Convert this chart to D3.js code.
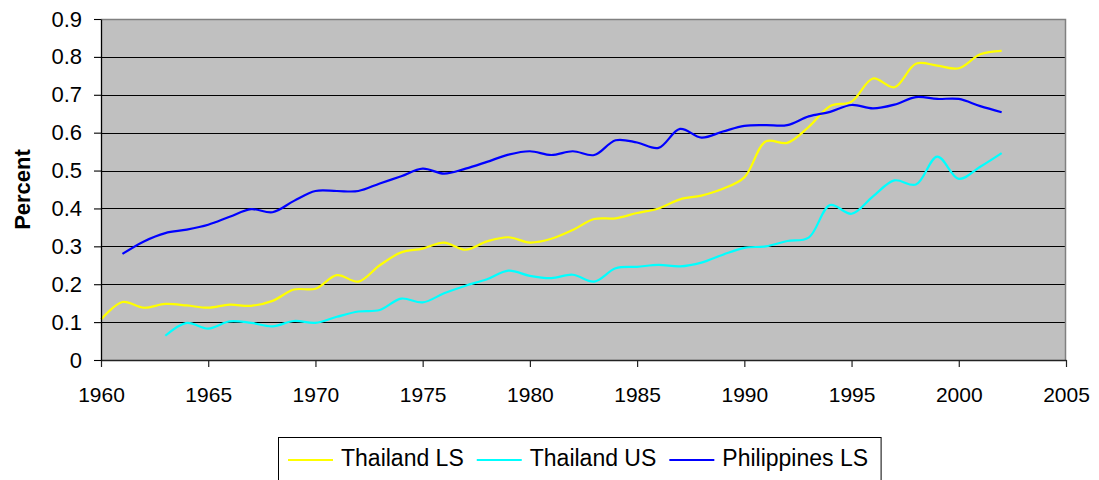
<!DOCTYPE html>
<html>
<head>
<meta charset="utf-8">
<script src="https://cdn.jsdelivr.net/npm/d3@7"></script>
<style>
  html, body { margin: 0; padding: 0; background: #ffffff; }
  svg { display: block; }
  text { font-family: "Liberation Sans", Arial, sans-serif; fill: #000; }
</style>
</head>
<body>
<svg id="chart" width="1099" height="480"></svg>
<script>
// ---------- data ----------
const years = [1960,1961,1962,1963,1964,1965,1966,1967,1968,1969,
               1970,1971,1972,1973,1974,1975,1976,1977,1978,1979,
               1980,1981,1982,1983,1984,1985,1986,1987,1988,1989,
               1990,1991,1992,1993,1994,1995,1996,1997,1998,1999,
               2000,2001,2002];

// Thailand LS: 1960-2002
const thailandLS = [0.107,0.153,0.138,0.148,0.144,0.138,0.146,0.143,0.156,0.186,
                    0.188,0.224,0.207,0.250,0.284,0.294,0.310,0.291,0.313,0.324,
                    0.310,0.320,0.343,0.372,0.374,0.388,0.400,0.424,0.434,0.452,
                    0.482,0.577,0.573,0.615,0.670,0.682,0.743,0.720,0.782,0.777,
                    0.770,0.807,0.816];

// Thailand US: 1963-2002 (null before)
const thailandUS = [null,null,null,0.064,0.098,0.083,0.102,0.098,0.089,0.103,
                    0.098,0.114,0.128,0.132,0.162,0.152,0.176,0.196,0.213,0.236,
                    0.222,0.216,0.225,0.207,0.242,0.246,0.251,0.247,0.257,0.278,
                    0.296,0.300,0.314,0.323,0.409,0.386,0.432,0.474,0.463,0.537,
                    0.478,0.510,0.546];

// Philippines LS: 1961-2002 (null before)
const philippinesLS = [null,0.280,0.313,0.335,0.344,0.357,0.378,0.398,0.390,0.420,
                       0.446,0.446,0.446,0.466,0.485,0.505,0.492,0.505,0.523,0.542,
                       0.551,0.541,0.551,0.541,0.580,0.574,0.560,0.610,0.587,0.603,
                       0.618,0.620,0.620,0.643,0.655,0.673,0.664,0.674,0.694,0.689,
                       0.689,0.670,0.654];

const seriesNames  = ["Thailand LS", "Thailand US", "Philippines LS"];
const seriesValues = [thailandLS, thailandUS, philippinesLS];
const seriesColors = ["#FFFF00", "#00FFFF", "#0000FF"];

const xTickValues = [1960,1965,1970,1975,1980,1985,1990,1995,2000,2005];
const yTickValues = [0,0.1,0.2,0.3,0.4,0.5,0.6,0.7,0.8,0.9];
const yTickLabels = ["0","0.1","0.2","0.3","0.4","0.5","0.6","0.7","0.8","0.9"];
const yAxisTitle = "Percent";

// ---------- layout ----------
const svg = d3.select("#chart");
const plot = { left: 101, right: 1066, top: 19, bottom: 360 };

const x = d3.scaleLinear().domain([1960, 2005]).range([plot.left, plot.right]);
const y = d3.scaleLinear().domain([0, 0.9]).range([plot.bottom, plot.top]);

// plot background
svg.append("rect")
  .attr("x", plot.left).attr("y", plot.top)
  .attr("width", plot.right - plot.left).attr("height", plot.bottom - plot.top)
  .attr("fill", "#C0C0C0");

// gridlines
svg.append("g")
  .selectAll("line")
  .data(yTickValues.filter(d => d > 0))
  .join("line")
  .attr("x1", plot.left).attr("x2", plot.right)
  .attr("y1", d => Math.round(y(d)) + 0.5).attr("y2", d => Math.round(y(d)) + 0.5)
  .attr("stroke", "#000").attr("stroke-width", 1)
  .attr("shape-rendering", "crispEdges");

// plot border top/right (grey)
svg.append("path")
  .attr("d", `M${plot.left},${plot.top + 0.5}H${plot.right - 0.5}V${plot.bottom}`)
  .attr("fill", "none").attr("stroke", "#808080").attr("stroke-width", 1.5);

// lines
const line = d3.line()
  .defined(d => d.v != null)
  .x(d => x(d.year))
  .y(d => y(d.v))
  .curve(d3.curveCatmullRom.alpha(0.5));

seriesValues.forEach((vals, i) => {
  const pts = years.map((yr, j) => ({ year: yr, v: vals[j] }));
  svg.append("path")
    .datum(pts)
    .attr("d", line)
    .attr("fill", "none")
    .attr("stroke", seriesColors[i])
    .attr("stroke-width", 2.2)
    .attr("stroke-linejoin", "round");
});

// axes
const xAxis = d3.axisBottom(x)
  .tickValues(xTickValues)
  .tickFormat(d => String(d))
  .tickSizeInner(7).tickSizeOuter(0).tickPadding(20);

const gx = svg.append("g")
  .attr("transform", `translate(0,${plot.bottom})`)
  .call(xAxis);
gx.select(".domain").attr("stroke", "#222").attr("stroke-width", 1.6);
gx.selectAll(".tick line").attr("stroke", "#222").attr("stroke-width", 1.2);
gx.selectAll(".tick text")
  .style("font-family", '"Liberation Sans", Arial, sans-serif')
  .style("font-size", "21px").attr("fill", "#000");

const yAxis = d3.axisLeft(y)
  .tickValues(yTickValues)
  .tickFormat((d, i) => yTickLabels[i])
  .tickSizeInner(7).tickSizeOuter(0).tickPadding(12);

const gy = svg.append("g")
  .attr("transform", `translate(${plot.left},0)`)
  .call(yAxis);
gy.select(".domain").attr("stroke", "#000").attr("stroke-width", 1.3);
gy.selectAll(".tick line").attr("stroke", "#000").attr("stroke-width", 1.1);
gy.selectAll(".tick text")
  .style("font-family", '"Liberation Sans", Arial, sans-serif')
  .style("font-size", "22px").attr("fill", "#000");

// y axis title
svg.append("text")
  .attr("transform", `translate(30,${(plot.top + plot.bottom) / 2}) rotate(-90)`)
  .attr("text-anchor", "middle")
  .style("font-size", "22px")
  .style("font-weight", "bold")
  .text(yAxisTitle);

// legend
const legend = svg.append("g");
const legendBox = legend.append("rect")
  .attr("x", 278.5).attr("y", 437.5)
  .attr("width", 606).attr("height", 50)
  .attr("fill", "#fff").attr("stroke", "#000").attr("stroke-width", 1);

let lx = 288;
seriesNames.forEach((name, i) => {
  legend.append("line")
    .attr("x1", lx).attr("x2", lx + 45)
    .attr("y1", 460).attr("y2", 460)
    .attr("stroke", seriesColors[i]).attr("stroke-width", 2);
  const t = legend.append("text")
    .attr("x", lx + 53).attr("y", 466)
    .style("font-size", "23px")
    .text(name);
  lx = lx + 53 + t.node().getComputedTextLength() + 13;
});
legendBox.attr("width", lx - 278.5);
</script>
</body>
</html>
